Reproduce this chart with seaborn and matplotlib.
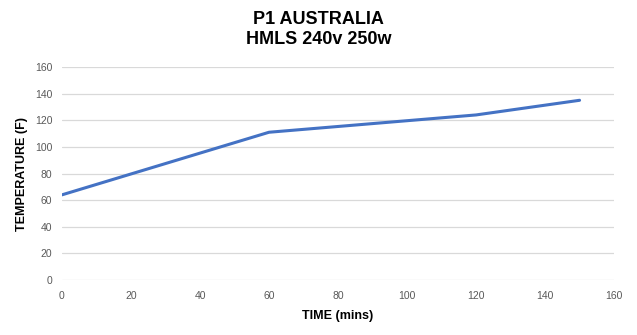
import matplotlib
matplotlib.use("Agg")
import matplotlib.pyplot as plt
import seaborn as sns
import pandas as pd

# Heating curve readings
time_mins = [0, 60, 120, 150]
temperature_f = [64, 111, 124, 135]
x_ticks = [0, 20, 40, 60, 80, 100, 120, 140, 160]
y_ticks = [0, 20, 40, 60, 80, 100, 120, 140, 160]

sns.set_theme(style="white")
plt.rcParams["font.family"] = ["Liberation Sans", "DejaVu Sans"]

df = pd.DataFrame({"time": time_mins, "temp": temperature_f})

fig = plt.figure(figsize=(6.37, 3.35), dpi=100)
ax = fig.add_axes([0.0973, 0.164, 0.8667, 0.636])

sns.lineplot(data=df, x="time", y="temp", ax=ax, color="#4472C4",
             linewidth=2.2, zorder=3)

ax.set_xlim(0, 160)
ax.set_ylim(0, 160)
ax.set_xticks(x_ticks)
ax.set_yticks(y_ticks)
ax.tick_params(axis="both", length=0, labelsize=7.5, colors="#595959")
ax.tick_params(axis="x", pad=8)
ax.tick_params(axis="y", pad=7)
ax.yaxis.grid(True, color="#D9D9D9", linewidth=0.9)
ax.xaxis.grid(False)
for s in ax.spines.values():
    s.set_visible(False)

ax.set_xlabel("TIME (mins)", fontsize=9, fontweight="bold", color="black", labelpad=6)
ax.set_ylabel("TEMPERATURE (F)", fontsize=9, fontweight="bold", color="black", labelpad=5)

fig.text(0.5, 0.912, "P1 AUSTRALIA\nHMLS 240v 250w", ha="center", va="center",
         fontsize=13, fontweight="bold", color="black", linespacing=1.3)

fig.savefig("out.png", dpi=100, facecolor="white")
